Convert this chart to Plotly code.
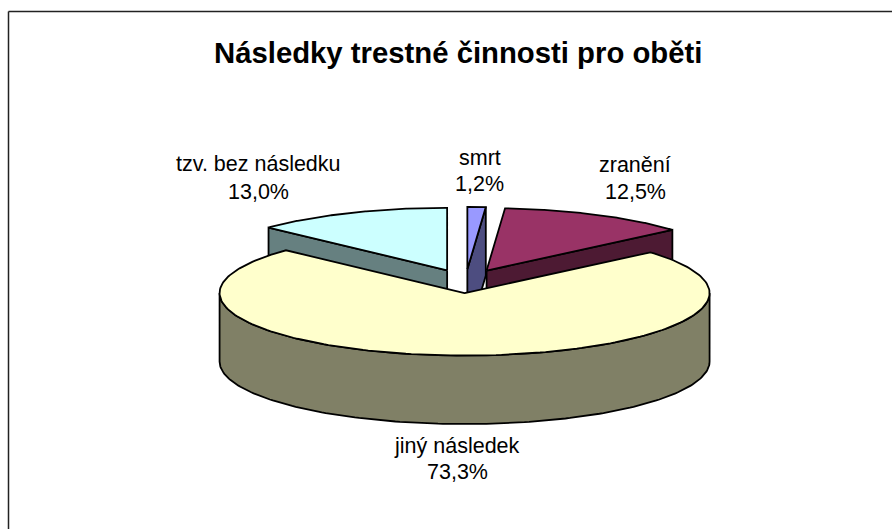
import numpy as np
import plotly.graph_objects as go

# Data
title = "Následky trestné činnosti pro oběti"
categories = ["smrt", "zranění", "jiný následek", "tzv. bez následku"]
values = [1.2, 12.5, 73.3, 13.0]
top_colors = ["#9999FF", "#993366", "#FFFFCC", "#CCFFFF"]
side_colors = ["#4D4D80", "#4D1A33", "#808066", "#668080"]

# Label anchors (centre x, first line y, second line y)
label_pos = [(479.5, 158, 184), (635, 165, 192), (457, 446, 472), (258.5, 164, 192)]

# Projection of the 3D pie
CX, CY = 465.6, 281.2      # shared centre
RX, RY = 245.0, 62.5       # ellipse radii of the top face
DEPTH = 68.5               # extruded height
EXPLODE = 46.5             # explosion distance in the pie plane
K = RY / RX
LINE = dict(color="#000000", width=1.8)


def project(deg, cx, cy, r=1.0):
    a = np.radians(deg)
    return cx + RX * r * np.sin(a), cy - RY * r * np.cos(a)


fig = go.Figure()


def poly(xs, ys, color):
    fig.add_trace(go.Scatter(x=list(xs), y=list(ys), mode="lines", fill="toself",
                             fillcolor=color, line=LINE, hoverinfo="skip",
                             showlegend=False))


total = sum(values)
edges = np.cumsum([0] + values) / total * 360
slices = []
for i, v in enumerate(values):
    a0, a1 = edges[i], edges[i + 1]
    mid = np.radians((a0 + a1) / 2)
    cx = CX + EXPLODE * np.sin(mid)
    cy = CY - EXPLODE * K * np.cos(mid)
    slices.append((i, a0, a1, cx, cy))


def draw(i, a0, a1, cx, cy):
    # cut faces that look towards the viewer
    if a1 <= 180 and a1 > 0:                      # right-hand back slices
        ex, ey = project(a1, cx, cy)
        poly([cx, ex, ex, cx, cx], [cy, ey, ey + DEPTH, cy + DEPTH, cy], side_colors[i])
    if a0 >= 180:                                 # left-hand back slices
        ex, ey = project(a0, cx, cy)
        poly([cx, ex, ex, cx, cx], [cy, ey, ey + DEPTH, cy + DEPTH, cy], side_colors[i])
    # outer rim on the front half
    lo, hi = max(a0, 90), min(a1, 270)
    if hi > lo:
        t = np.linspace(lo, hi, 160)
        x, y = project(t, cx, cy)
        poly(np.r_[x, x[::-1], x[0]], np.r_[y, y[::-1] + DEPTH, y[0]], side_colors[i])
    # top face
    t = np.linspace(a0, a1, 200)
    x, y = project(t, cx, cy)
    poly(np.r_[cx, x, cx], np.r_[cy, y, cy], top_colors[i])


# back slices first, the big front slice last
for idx in [3, 0, 1, 2]:
    draw(*slices[idx])

fig.add_shape(type="line", x0=8.5, x1=892, y0=11.5, y1=11.5, line=dict(color="#222222", width=1.5))
fig.add_shape(type="line", x0=8.5, x1=8.5, y0=11.5, y1=529, line=dict(color="#222222", width=1.5))

FONT = "Liberation Sans, Arial, sans-serif"
fig.add_annotation(x=457.5, y=52, text=f"<b>{title}</b>", showarrow=False, xanchor="center", yanchor="middle",
                   font=dict(family=FONT, size=29.3, color="#000000"))
for cat, v, (lx, y1, y2) in zip(categories, values, label_pos):
    fig.add_annotation(x=lx, y=y1, text=cat, showarrow=False, xanchor="center", yanchor="middle",
                       font=dict(family=FONT, size=21.5, color="#000000"))
    fig.add_annotation(x=lx, y=y2, text=f"{v:.1f}%".replace(".", ","), showarrow=False,
                       xanchor="center", yanchor="middle",
                       font=dict(family=FONT, size=21.5, color="#000000"))

fig.update_layout(width=892, height=529, margin=dict(l=0, r=0, t=0, b=0),
                  paper_bgcolor="#FFFFFF", plot_bgcolor="#FFFFFF", showlegend=False,
                  xaxis=dict(range=[0, 892], visible=False, fixedrange=True),
                  yaxis=dict(range=[529, 0], visible=False, fixedrange=True))
fig.write_html("out.html", config={"displayModeBar": False},
               post_script="document.body.style.margin='0';document.documentElement.style.overflow='hidden';")
